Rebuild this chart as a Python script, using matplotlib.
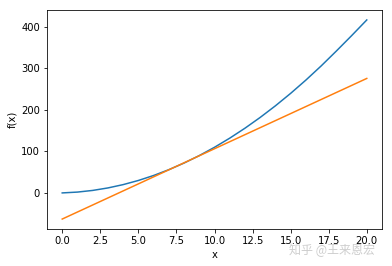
import matplotlib
matplotlib.use("Agg")
import matplotlib.pyplot as plt

# curve values at x = 0, 1, ..., 20
x_curve = [0, 1, 2, 3, 4, 5, 6, 7, 8, 9, 10, 11, 12, 13, 14, 15, 16, 17, 18, 19, 20]
y_curve = [0, 2, 6, 12, 20, 30, 42, 56, 72, 90, 110, 132, 156, 182, 210, 240,
           272, 306, 342, 379, 417]

# tangent line end points
x_line = [0, 20]
y_line = [-63, 276]

x_ticks = [0.0, 2.5, 5.0, 7.5, 10.0, 12.5, 15.0, 17.5, 20.0]
y_ticks = [0, 100, 200, 300, 400]

fig = plt.figure(figsize=(392 / 72, 266 / 72), dpi=72)
ax = fig.add_axes([47 / 392, 37 / 266, 335 / 392, 219 / 266])

ax.plot(x_curve, y_curve, color="#1f77b4")
ax.plot(x_line, y_line, color="#ff7f0e")

ax.set_xlim(-1, 21)
ax.set_ylim(-87, 441)
ax.set_xticks(x_ticks)
ax.set_yticks(y_ticks)
ax.set_xlabel("x")
ax.set_ylabel("f(x)")

# watermark
fig.text(332 / 392, 1 - 250 / 266, "知乎 @王来恩宏", ha="center", va="center",
         fontsize=12, color="#c8c8c8", alpha=0.9,
         family=["Noto Sans CJK SC", "DejaVu Sans"])

fig.savefig("out.png", dpi=72)
